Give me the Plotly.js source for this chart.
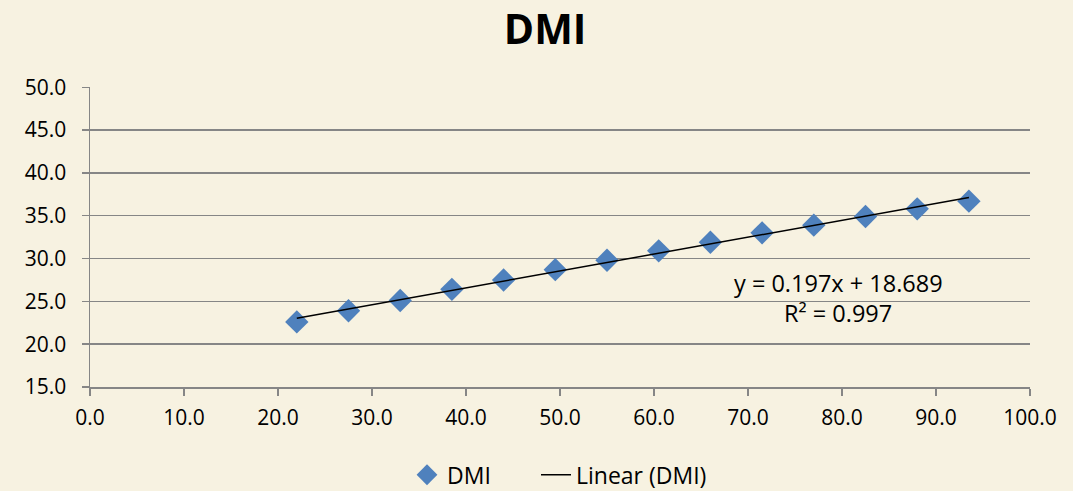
<!DOCTYPE html>
<html>
<head>
<meta charset="utf-8">
<script src="https://cdn.plot.ly/plotly-3.0.1.min.js"></script>
<style>html,body{margin:0;padding:0;background:#F7F2E1;}#chart{width:1073px;height:491px;}</style>
</head>
<body>
<div id="chart"></div>
<script>
const seriesName = "DMI";
const xValues = [22.0, 27.5, 33.0, 38.5, 44.0, 49.5, 55.0, 60.5, 66.0, 71.5, 77.0, 82.5, 88.0, 93.5];
const yValues = [22.6, 23.9, 25.1, 26.4, 27.5, 28.7, 29.8, 30.9, 31.9, 33.0, 33.9, 34.9, 35.8, 36.7];
const equationText = "y = 0.197x + 18.689";
const r2Text = "R² = 0.997";

// least squares fit
const n = xValues.length;
const mx = xValues.reduce((a,b)=>a+b,0)/n;
const my = yValues.reduce((a,b)=>a+b,0)/n;
let sxy=0, sxx=0;
for (let i=0;i<n;i++){ sxy += (xValues[i]-mx)*(yValues[i]-my); sxx += (xValues[i]-mx)**2; }
const slope = sxy/sxx, intercept = my - slope*mx;
const xMin = Math.min(...xValues), xMax = Math.max(...xValues);
const trendX = [xMin, xMax];
const trendY = trendX.map(x => slope*x + intercept);

const font = "Open Sans, Liberation Sans, sans-serif";
const traces = [
  {x: xValues, y: yValues, mode: "markers", type: "scatter", name: seriesName, legend: "legend",
   marker: {symbol: "diamond", size: 18, color: "#4F81BD"}},
  {x: trendX, y: trendY, mode: "lines", type: "scatter", name: "Linear (" + seriesName + ")", legend: "legend2",
   line: {color: "#000000", width: 1.5}}
];
const legendBase = {orientation: "h", xref: "container", yref: "container", y: 0.033, yanchor: "middle", xanchor: "left",
                    font: {size: 23}, bgcolor: "rgba(0,0,0,0)"};
const layout = {
  width: 1073, height: 491,
  paper_bgcolor: "#F7F2E1", plot_bgcolor: "#F7F2E1",
  margin: {l: 90, r: 43, t: 87, b: 104},
  font: {family: font, size: 21, color: "#000"},
  title: {text: "<b>DMI</b>", font: {family: font, size: 41, color: "#000"}, x: 0.508, xanchor: "center", yref: "container", y: 0.94, yanchor: "middle"},
  showlegend: true,
  legend: Object.assign({}, legendBase, {x: 407/1073}),
  legend2: Object.assign({}, legendBase, {x: 536/1073}),
  xaxis: {range: [0, 100], dtick: 10, tickformat: ".1f", showgrid: false, zeroline: false,
          showline: true, linecolor: "#868686", linewidth: 1.5, ticks: "outside", ticklen: 7, tickcolor: "#868686", tickwidth: 1.5,
          tickfont: {size: 21}, ticklabelstandoff: 4, fixedrange: true},
  yaxis: {range: [15, 50.03], tick0: 15, dtick: 5, tickformat: ".1f", showgrid: true, gridcolor: "#868686", gridwidth: 1.5, zeroline: false,
          showline: true, linecolor: "#868686", linewidth: 1.5, ticks: "outside", ticklen: 7, tickcolor: "#868686", tickwidth: 1.5,
          tickfont: {size: 21}, ticklabelstandoff: 11, fixedrange: true},
  annotations: [
    {xref: "paper", yref: "paper", x: 0.796, y: 0.347, text: equationText, showarrow: false, xanchor: "center", yanchor: "middle", font: {size: 23.5}},
    {xref: "paper", yref: "paper", x: 0.796, y: 0.247, text: r2Text, showarrow: false, xanchor: "center", yanchor: "middle", font: {size: 23.5}}
  ]
};
Plotly.newPlot("chart", traces, layout, {displayModeBar: false, staticPlot: true});
</script>
</body>
</html>
